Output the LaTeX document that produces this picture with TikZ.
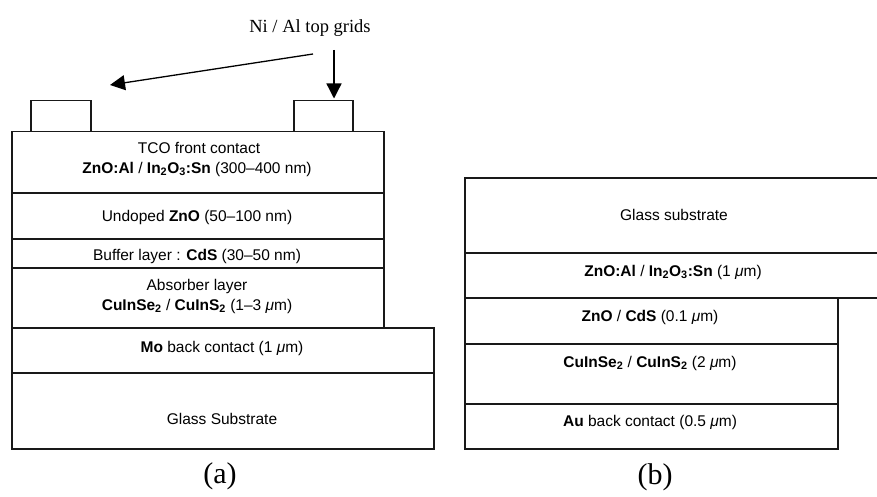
\documentclass[tikz,border=0pt]{standalone}
\usepackage{fontspec}
\setmainfont{Liberation Serif}
\setsansfont{Liberation Sans}
\usetikzlibrary{arrows.meta}
\newcommand\umu{\textit{μ}m}
\newcommand\sub[1]{\textsubscript{#1}}
\begin{document}
\begin{tikzpicture}[x=1pt,y=-1pt,
  box/.style={draw=black!90, line width=1.5pt, inner sep=0pt, anchor=north west},
  lbl/.style={font=\sffamily\fontsize{15.5}{18}\selectfont, inner sep=0pt},
  figcap/.style={font=\rmfamily\fontsize{30}{32}\selectfont, inner sep=0pt},
  note/.style={font=\rmfamily\fontsize{18.5}{20}\selectfont, inner sep=0pt},
  arr/.style={line width=1.3pt, -{Triangle[length=15pt,width=15pt]}}]
\useasboundingbox (0,0) rectangle (877,497);
% (a) stack
\node[box, minimum width=60pt, minimum height=31pt] (g1) at (30,100) {};
\node[box, minimum width=59pt, minimum height=31pt] (g2) at (293,100) {};
\node[box, minimum width=372pt, minimum height=61pt] (tco) at (11,131) {};
\node[box, minimum width=372pt, minimum height=46pt] (und) at (11,192) {};
\node[box, minimum width=372pt, minimum height=29pt] (buf) at (11,238) {};
\node[box, minimum width=372pt, minimum height=60pt] (abs) at (11,267) {};
\node[box, minimum width=422pt, minimum height=45pt] (mo) at (11,327) {};
\node[box, minimum width=422pt, minimum height=76pt] (gla) at (11,372) {};
\node[lbl] (t1) at (199,148) {TCO front contact};
\node[lbl] (t2) at (197,169) {\textbf{ZnO:Al} / \textbf{In\sub{2}O\sub{3}:Sn} (300--400 nm)};
\node[lbl] (t3) at (197,217) {Undoped \textbf{ZnO} (50--100 nm)};
\node[lbl] (t4) at (197,256) {Buffer layer : \textbf{CdS} (30--50 nm)};
\node[lbl] (t5) at (197,286) {Absorber layer};
\node[lbl] (t6) at (197,306) {\textbf{CuInSe\sub{2}} / \textbf{CuInS\sub{2}} (1--3 \umu)};
\node[lbl] (t7) at (222,348) {\textbf{Mo} back contact (1 \umu)};
\node[lbl] (t8) at (222,419) {Glass Substrate};
\node[figcap] (ca) at (220,476) {(a)};
\node[note] (grids) at (310,28) {Ni / Al top grids};
\coordinate (s1) at (313,54);
\coordinate (e1) at (110,85);
\coordinate (s2) at (334,50);
\draw[arr] (s1) -- (e1);
\draw[arr, shorten >=1.5pt] (s2) -- (s2 |- g2.north);
% (b) stack
\node[box, minimum width=430pt, minimum height=75pt] (gs) at (464,177) {};
\node[box, minimum width=430pt, minimum height=45pt] (ito) at (464,252) {};
\node[box, minimum width=373pt, minimum height=46pt] (cds) at (464,297) {};
\node[box, minimum width=373pt, minimum height=60pt] (cis) at (464,343) {};
\node[box, minimum width=373pt, minimum height=45pt] (au) at (464,403) {};
\node[lbl] (r1) at (674,215) {Glass substrate};
\node[lbl] (r2) at (673,272) {\textbf{ZnO:Al} / \textbf{In\sub{2}O\sub{3}:Sn} (1 \umu)};
\node[lbl] (r3) at (650,317) {\textbf{ZnO} / \textbf{CdS} (0.1 \umu)};
\node[lbl] (r4) at (650,363) {\textbf{CuInSe\sub{2}} / \textbf{CuInS\sub{2}} (2 \umu)};
\node[lbl] (r5) at (650,422) {\textbf{Au} back contact (0.5 \umu)};
\node[figcap] (cb) at (655,477) {(b)};
\end{tikzpicture}
\end{document}
